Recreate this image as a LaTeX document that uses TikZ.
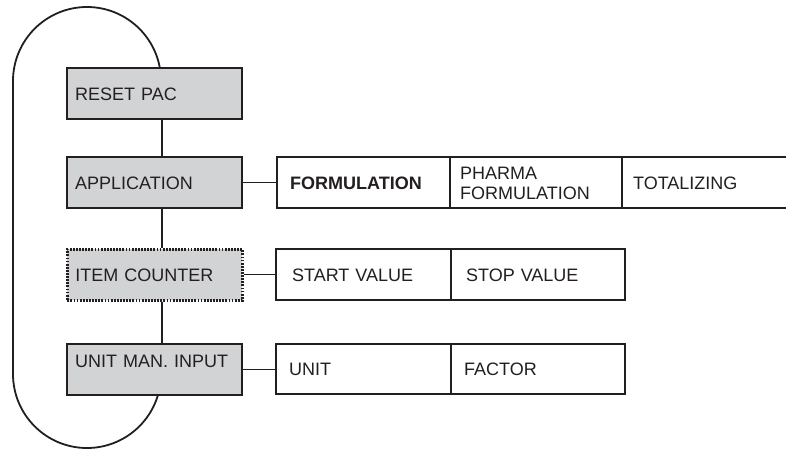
\documentclass[tikz,border=0pt]{standalone}
\usepackage{fontspec}
\setmainfont{Liberation Sans}
\definecolor{ink}{HTML}{231F20}
\definecolor{boxgray}{HTML}{D2D3D5}
\begin{document}
\begin{tikzpicture}[x=1pt,y=-1pt,
  box/.style={draw=ink, line width=2.2pt, rectangle, anchor=north west,
    minimum height=51pt, inner ysep=0pt, text height=13pt, text depth=0pt,
    align=left, text=ink, font=\fontsize{18}{20}\selectfont},
  graybox/.style={box, fill=boxgray, inner xsep=8pt, text width=159pt},
  cell/.style={box, fill=white},
  spine/.style={draw=ink, line width=2.4pt},
  loopline/.style={draw=ink, line width=1.8pt},
  link/.style={draw=ink, line width=1.2pt},
  dotframe/.style={line width=2.6pt, dash pattern=on 1.8pt off 1.3pt}
]
\useasboundingbox (0,0) rectangle (786,450);
\clip (0,0) rectangle (786,450);

% loop
\draw[loopline] (161,81) arc[start angle=0,end angle=180,radius=74pt]
  -- (13,374) arc[start angle=180,end angle=360,radius=74pt];

% left column
\node[graybox] (reset) at (66,67) {RESET PAC};
\node[graybox] (app) at (66,156) {APPLICATION};
\node[graybox, dotframe] (item) at (66,248) {ITEM COUNTER};
\node[graybox, text depth=18pt] (unit) at (66,343) {UNIT MAN. INPUT};

\coordinate (sx) at (162,0);
\draw[spine] (reset.south -| sx) -- (app.north -| sx);
\draw[spine] (app.south -| sx) -- (item.north -| sx);
\draw[spine] (item.south -| sx) -- (unit.north -| sx);

% row 1
\node[cell, inner xsep=13pt, text width=147pt, font=\fontsize{18}{20}\selectfont\bfseries] (form) at (276,156) {FORMULATION};
\node[cell, inner xsep=10pt, text width=152pt, text depth=20pt] (pharma) at (449,156) {PHARMA\\FORMULATION};
\node[cell, inner xsep=11pt, text width=160pt] (total) at (621,156) {TOTALIZING};

% row 2
\node[cell, inner xsep=16pt, text width=143pt] (start) at (275,248) {START VALUE};
\node[cell, inner xsep=15pt, text width=144pt] (stop) at (450,248) {STOP VALUE};

% row 3
\node[cell, inner xsep=13pt, text width=149pt, minimum height=50pt] (unitc) at (275,343) {UNIT};
\node[cell, inner xsep=13pt, text width=148pt, minimum height=50pt] (factor) at (450,343) {FACTOR};

% links
\draw[link] (app.east) -- (app.east -| form.west);
\draw[link] (item.east) -- (item.east -| start.west);
\draw[link] (unit.east) -- (unit.east -| unitc.west);
\end{tikzpicture}
\end{document}
